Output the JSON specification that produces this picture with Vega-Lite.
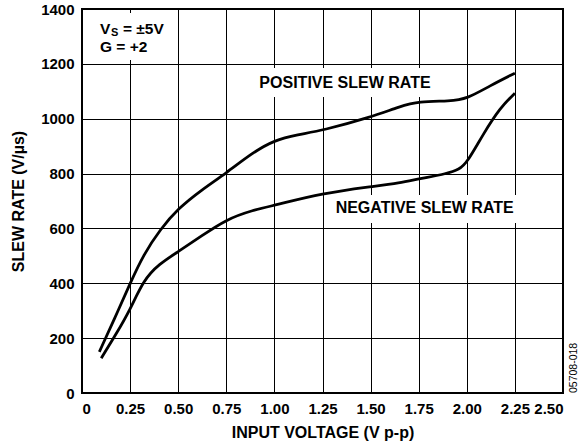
{
  "$schema": "https://vega.github.io/schema/vega-lite/v6.json",
  "width": 481,
  "height": 384,
  "autosize": "none",
  "padding": {"left": 82, "top": 9, "right": 23, "bottom": 53},
  "background": "white",
  "config": {
    "view": {"stroke": "black", "strokeWidth": 2},
    "font": "Liberation Sans",
    "axis": {
      "labelFont": "Liberation Sans",
      "labelFontWeight": "bold",
      "labelFontSize": 15,
      "labelColor": "black",
      "titleFont": "Liberation Sans",
      "titleFontWeight": "bold",
      "titleFontSize": 16,
      "titleColor": "black",
      "grid": true,
      "gridColor": "black",
      "gridOpacity": 1,
      "gridWidth": 1,
      "ticks": false,
      "domain": false
    }
  },
  "datasets": {
    "curves": [
      {"series": "Positive", "x": 0.09, "y": 150},
      {"series": "Positive", "x": 0.17, "y": 272},
      {"series": "Positive", "x": 0.25, "y": 400},
      {"series": "Positive", "x": 0.32, "y": 505},
      {"series": "Positive", "x": 0.407, "y": 597},
      {"series": "Positive", "x": 0.5, "y": 673},
      {"series": "Positive", "x": 0.62, "y": 740},
      {"series": "Positive", "x": 0.75, "y": 802},
      {"series": "Positive", "x": 0.884, "y": 875},
      {"series": "Positive", "x": 1.0, "y": 922},
      {"series": "Positive", "x": 1.12, "y": 942},
      {"series": "Positive", "x": 1.25, "y": 957},
      {"series": "Positive", "x": 1.5, "y": 1005},
      {"series": "Positive", "x": 1.653, "y": 1045},
      {"series": "Positive", "x": 1.75, "y": 1063},
      {"series": "Positive", "x": 1.913, "y": 1064},
      {"series": "Positive", "x": 2.0, "y": 1072},
      {"series": "Positive", "x": 2.12, "y": 1120},
      {"series": "Positive", "x": 2.25, "y": 1166},
      {"series": "Negative", "x": 0.1, "y": 127},
      {"series": "Negative", "x": 0.175, "y": 212},
      {"series": "Negative", "x": 0.25, "y": 303},
      {"series": "Negative", "x": 0.32, "y": 412},
      {"series": "Negative", "x": 0.4, "y": 470},
      {"series": "Negative", "x": 0.5, "y": 515},
      {"series": "Negative", "x": 0.62, "y": 572},
      {"series": "Negative", "x": 0.75, "y": 633},
      {"series": "Negative", "x": 0.884, "y": 666},
      {"series": "Negative", "x": 1.0, "y": 684},
      {"series": "Negative", "x": 1.25, "y": 728},
      {"series": "Negative", "x": 1.5, "y": 752},
      {"series": "Negative", "x": 1.653, "y": 766},
      {"series": "Negative", "x": 1.75, "y": 781},
      {"series": "Negative", "x": 1.9, "y": 800},
      {"series": "Negative", "x": 1.96, "y": 815},
      {"series": "Negative", "x": 2.0, "y": 838},
      {"series": "Negative", "x": 2.086, "y": 945},
      {"series": "Negative", "x": 2.173, "y": 1040},
      {"series": "Negative", "x": 2.25, "y": 1093}
    ],
    "boxes": [
      {"x": 0.06, "x2": 0.45, "y": 1214, "y2": 1385},
      {"x": 0.9, "x2": 1.835, "y": 1079, "y2": 1185},
      {"x": 1.29, "x2": 2.27, "y": 620, "y2": 722}
    ]
  },
  "layer": [
    {
      "data": {"name": "boxes"},
      "mark": {"type": "rect", "fill": "white", "stroke": null},
      "encoding": {
        "x": {"field": "x", "type": "quantitative", "scale": {"domain": [0, 2.5], "nice": false, "zero": false},
          "axis": {"values": [0, 0.25, 0.5, 0.75, 1, 1.25, 1.5, 1.75, 2, 2.25, 2.5], "labelExpr": "datum.value == 0 ? '0' : format(datum.value, '.2f')", "labelPadding": 8, "title": "INPUT VOLTAGE (V p-p)", "titlePadding": 8}},
        "x2": {"field": "x2"},
        "y": {"field": "y", "type": "quantitative", "scale": {"domain": [0, 1400], "nice": false},
          "axis": {"values": [0, 200, 400, 600, 800, 1000, 1200, 1400], "format": "d", "labelPadding": 8, "title": "SLEW RATE (V/µs)", "titlePadding": 14}},
        "y2": {"field": "y2"}
      }
    },
    {
      "data": {"name": "curves"},
      "mark": {"type": "line", "color": "black", "strokeWidth": 2.8, "interpolate": "basis"},
      "encoding": {
        "x": {"field": "x", "type": "quantitative"},
        "y": {"field": "y", "type": "quantitative"},
        "detail": {"field": "series"}
      }
    },
    {
      "data": {"values": [
        {"x": 1.367, "y": 1129, "text": "POSITIVE SLEW RATE"},
        {"x": 1.781, "y": 673, "text": "NEGATIVE SLEW RATE"}
      ]},
      "mark": {"type": "text", "font": "Liberation Sans", "fontWeight": "bold", "fontSize": 16, "color": "black", "align": "center", "baseline": "middle"},
      "encoding": {
        "x": {"field": "x", "type": "quantitative"},
        "y": {"field": "y", "type": "quantitative"},
        "text": {"field": "text"}
      }
    },
    {
      "data": {"values": [
        {"x": 0.0936, "y": 1326, "text": "V"},
        {"x": 0.213, "y": 1326, "text": "= ±5V"},
        {"x": 0.0936, "y": 1260, "text": "G = +2"}
      ]},
      "mark": {"type": "text", "font": "Liberation Sans", "fontWeight": "bold", "fontSize": 15.5, "color": "black", "align": "left", "baseline": "middle"},
      "encoding": {
        "x": {"field": "x", "type": "quantitative"},
        "y": {"field": "y", "type": "quantitative"},
        "text": {"field": "text"}
      }
    },
    {
      "data": {"values": [{"x": 0.1507, "y": 1311, "text": "S"}]},
      "mark": {"type": "text", "font": "Liberation Sans", "fontWeight": "bold", "fontSize": 11, "color": "black", "align": "left", "baseline": "middle"},
      "encoding": {
        "x": {"field": "x", "type": "quantitative"},
        "y": {"field": "y", "type": "quantitative"},
        "text": {"field": "text"}
      }
    },
    {
      "data": {"values": [{"x": 2.557, "y": 0, "text": "05708-018"}]},
      "mark": {"type": "text", "font": "Liberation Sans", "fontSize": 10.5, "color": "black", "angle": 270, "align": "left", "baseline": "middle"},
      "encoding": {
        "x": {"field": "x", "type": "quantitative"},
        "y": {"field": "y", "type": "quantitative"},
        "text": {"field": "text"}
      }
    }
  ]
}
